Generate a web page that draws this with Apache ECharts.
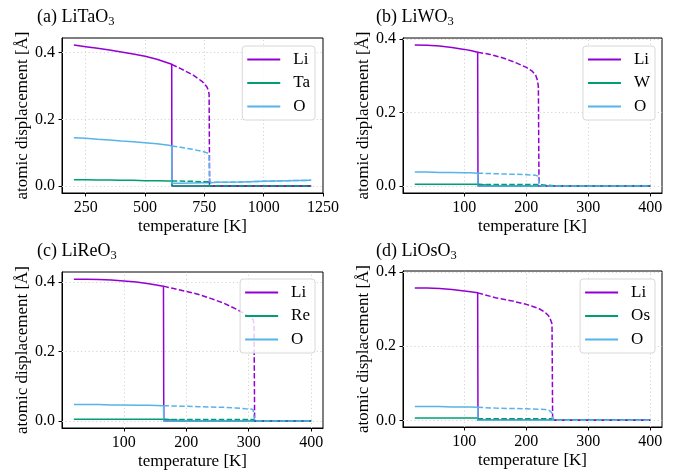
<!DOCTYPE html>
<html><head><meta charset="utf-8">
<script src="https://cdn.jsdelivr.net/npm/echarts@6/dist/echarts.min.js"></script>
<style>html,body{margin:0;padding:0;background:#fff}#c{width:689px;height:472px}</style>
</head><body><div id="c"></div>
<script>
// ---------- data ----------
// (a) LiTaO3
const aSolidT  = [200, 250, 300, 350, 400, 450, 500, 550, 600, 612.5, 613, 650, 700, 750, 775, 800, 900, 1000, 1100, 1200];
const aSolidLi = [0.423, 0.418, 0.413, 0.408, 0.402, 0.396, 0.389, 0.380, 0.368, 0.365, 0, 0, 0, 0, 0, 0, 0, 0, 0, 0];
const aSolidTa = [0.019, 0.019, 0.018, 0.018, 0.017, 0.017, 0.016, 0.016, 0.015, 0.015, 0, 0, 0, 0, 0, 0, 0, 0, 0, 0];
const aSolidO  = [0.145, 0.143, 0.140, 0.138, 0.135, 0.133, 0.130, 0.127, 0.122, 0.120, 0.008, 0.008, 0.009, 0.010, 0.010, 0.011, 0.012, 0.014, 0.016, 0.017];
const aDashT   = [612.5, 650, 700, 740, 760, 767, 770, 772, 775, 800, 900, 1000, 1100, 1200];
const aDashLi  = [0.365, 0.352, 0.334, 0.314, 0.298, 0.287, 0.275, 0, 0, 0, 0, 0, 0, 0];
const aDashTa  = [0.015, 0.015, 0.014, 0.013, 0.013, 0.013, 0.013, 0, 0, 0, 0, 0, 0, 0];
const aDashO   = [0.120, 0.116, 0.110, 0.104, 0.100, 0.098, 0.096, 0.020, 0.010, 0.011, 0.012, 0.014, 0.016, 0.017];
// (b) LiWO3
const bSolidT  = [20, 40, 60, 80, 100, 110, 121.5, 122, 150, 200, 250, 300, 350, 400];
const bSolidLi = [0.384, 0.383, 0.381, 0.377, 0.372, 0.369, 0.364, 0, 0, 0, 0, 0, 0, 0];
const bSolidW  = [0.005, 0.005, 0.005, 0.005, 0.005, 0.005, 0.005, 0, 0, 0, 0, 0, 0, 0];
const bSolidO  = [0.038, 0.038, 0.037, 0.037, 0.036, 0.036, 0.035, 0, 0, 0, 0, 0, 0, 0];
const bDashT   = [121.5, 140, 160, 180, 200, 210, 215, 218, 219.5, 220.5, 222, 250, 300, 350, 400];
const bDashLi  = [0.364, 0.359, 0.350, 0.338, 0.323, 0.312, 0.302, 0.288, 0.270, 0, 0, 0, 0, 0, 0];
const bDashW   = [0.004, 0.004, 0.004, 0.004, 0.004, 0.004, 0.004, 0.004, 0.004, 0, 0, 0, 0, 0, 0];
const bDashO   = [0.035, 0.034, 0.033, 0.032, 0.031, 0.030, 0.029, 0.029, 0.027, 0, 0, 0, 0, 0, 0];
// (c) LiReO3
const cSolidT  = [20, 40, 60, 80, 100, 120, 140, 163.5, 164, 200, 250, 300, 350, 400];
const cSolidLi = [0.408, 0.408, 0.407, 0.406, 0.403, 0.400, 0.395, 0.388, 0, 0, 0, 0, 0, 0];
const cSolidRe = [0.005, 0.005, 0.005, 0.005, 0.005, 0.005, 0.005, 0.005, 0, 0, 0, 0, 0, 0];
const cSolidO  = [0.047, 0.047, 0.047, 0.046, 0.046, 0.045, 0.045, 0.044, 0, 0, 0, 0, 0, 0];
const cDashT   = [163.5, 180, 200, 220, 240, 260, 280, 295, 303, 307, 308.5, 309.5, 312, 350, 400];
const cDashLi  = [0.388, 0.381, 0.373, 0.364, 0.352, 0.339, 0.322, 0.307, 0.298, 0.292, 0.280, 0, 0, 0, 0];
const cDashRe  = [0.004, 0.004, 0.004, 0.004, 0.004, 0.004, 0.004, 0.004, 0.004, 0.004, 0.004, 0, 0, 0, 0];
const cDashO   = [0.044, 0.043, 0.042, 0.041, 0.040, 0.039, 0.037, 0.035, 0.034, 0.033, 0.030, 0, 0, 0, 0];
// (d) LiOsO3
const dSolidT  = [20, 40, 60, 80, 100, 110, 121.5, 122, 150, 200, 250, 300, 350, 400];
const dSolidLi = [0.357, 0.357, 0.356, 0.353, 0.349, 0.347, 0.344, 0, 0, 0, 0, 0, 0, 0];
const dSolidOs = [0.006, 0.006, 0.006, 0.006, 0.006, 0.006, 0.006, 0, 0, 0, 0, 0, 0, 0];
const dSolidO  = [0.037, 0.037, 0.037, 0.036, 0.036, 0.036, 0.035, 0, 0, 0, 0, 0, 0, 0];
const dDashT   = [121.5, 150, 175, 200, 220, 230, 236, 239, 241.5, 242.5, 250, 300, 350, 400];
const dDashLi  = [0.344, 0.331, 0.323, 0.313, 0.302, 0.292, 0.282, 0.272, 0.260, 0, 0, 0, 0, 0];
const dDashOs  = [0.004, 0.004, 0.004, 0.004, 0.004, 0.004, 0.004, 0.004, 0.004, 0, 0, 0, 0, 0];
const dDashO   = [0.035, 0.033, 0.032, 0.031, 0.030, 0.029, 0.028, 0.027, 0.020, 0, 0, 0, 0, 0];
// tick labels
const xTicksA = [250, 500, 750, 1000, 1250];
const xTicksB = [100, 200, 300, 400];
const yTicks  = [0, 0.2, 0.4];
const titles  = ['(a) LiTaO{s|3}', '(b) LiWO{s|3}', '(c) LiReO{s|3}', '(d) LiOsO{s|3}'];
const hostNames = ['Ta', 'W', 'Re', 'Os'];

// ---------- styling ----------
const FONT = 'Liberation Serif';
const COL = {Li: '#9400D3', host: '#009E73', O: '#56B4E9'};

const panels = [
  {grid: {left: 62, top: 38, width: 261, height: 155}, xMin: 150, xMax: 1250, xt: xTicksA, yMin: -0.021, yMax: 0.444,
   title: {left: 37, top: 7}, legend: {right: 374, top: 46},
   s: [aSolidT, aSolidLi, aSolidTa, aSolidO], d: [aDashT, aDashLi, aDashTa, aDashO]},
  {grid: {left: 403, top: 38, width: 259, height: 155}, xMin: 1, xMax: 419, xt: xTicksB, yMin: -0.019, yMax: 0.403,
   title: {left: 376, top: 7}, legend: {right: 34, top: 46},
   s: [bSolidT, bSolidLi, bSolidW, bSolidO], d: [bDashT, bDashLi, bDashW, bDashO]},
  {grid: {left: 62, top: 272, width: 261, height: 156}, xMin: 1, xMax: 419, xt: xTicksB, yMin: -0.0204, yMax: 0.4287,
   title: {left: 37, top: 241}, legend: {right: 374, top: 279},
   s: [cSolidT, cSolidLi, cSolidRe, cSolidO], d: [cDashT, cDashLi, cDashRe, cDashO]},
  {grid: {left: 403, top: 271, width: 259, height: 156}, xMin: 1, xMax: 419, xt: xTicksB, yMin: -0.018, yMax: 0.403,
   title: {left: 376, top: 241}, legend: {right: 34, top: 279},
   s: [dSolidT, dSolidLi, dSolidOs, dSolidO], d: [dDashT, dDashLi, dDashOs, dDashO]}
];

const zip = (T, Y) => T.map((t, i) => [t, Y[i]]);
const option = {animation: false, backgroundColor: '#fff', title: [], grid: [], xAxis: [], yAxis: [], legend: [], series: []};

panels.forEach((p, i) => {
  option.title.push({text: titles[i], left: p.title.left, top: p.title.top, padding: 0,
    textStyle: {fontFamily: FONT, fontSize: 18, fontWeight: 'normal', color: '#000', lineHeight: 21,
      rich: {s: {fontFamily: FONT, fontSize: 12.5, color: '#000', lineHeight: 21, verticalAlign: 'bottom', padding: [6, 0, 0, 0]}}}});
  option.grid.push(Object.assign({show: true, borderColor: '#000', borderWidth: 1, backgroundColor: 'transparent'}, p.grid));
  option.xAxis.push({type: 'value', gridIndex: i, min: p.xMin, max: p.xMax,
    axisLine: {show: true, onZero: false, lineStyle: {color: '#000', width: 1}},
    axisTick: {show: true, inside: false, length: 3.5, lineStyle: {color: '#000'}, customValues: p.xt},
    axisLabel: {customValues: p.xt, margin: 7, fontFamily: FONT, fontSize: 16, color: '#000', formatter: v => String(v)},
    splitLine: {show: false},
    name: 'temperature [K]', nameLocation: 'middle', nameGap: 25,
    nameTextStyle: {fontFamily: FONT, fontSize: 17, color: '#000'}});
  option.yAxis.push({type: 'value', gridIndex: i, min: p.yMin, max: p.yMax,
    axisLine: {show: true, onZero: false, lineStyle: {color: '#000', width: 1}},
    axisTick: {show: true, inside: false, length: 3.5, lineStyle: {color: '#000'}, customValues: yTicks},
    axisLabel: {customValues: yTicks, margin: 7, fontFamily: FONT, fontSize: 16, color: '#000', formatter: v => v.toFixed(1)},
    splitLine: {show: false},
    name: 'atomic displacement [Å]', nameLocation: 'middle', nameGap: 28,
    nameTextStyle: {fontFamily: FONT, fontSize: 17, color: '#000'}});
  // dotted grid lines at the tick values
  option.series.push({type: 'line', name: 'grid' + i, xAxisIndex: i, yAxisIndex: i, data: [], silent: true, z: 1,
    markLine: {silent: true, z: 1, symbol: ['none', 'none'], label: {show: false}, animation: false,
      lineStyle: {color: '#d4d4d4', width: 1, type: [1.2, 2.6]},
      emphasis: {disabled: true},
      data: yTicks.map(v => ({yAxis: v})).concat(p.xt.filter(v => v < p.xMax).map(v => ({xAxis: v})))}});
  const names = ['Li', hostNames[i], 'O'];
  const cols = [COL.Li, COL.host, COL.O];
  option.legend.push({data: names, orient: 'vertical', right: p.legend.right, top: p.legend.top,
    icon: 'rect', itemWidth: 33, itemHeight: 2, itemGap: 6.5, padding: [5, 5, 5, 5],
    backgroundColor: 'rgba(255,255,255,0.8)', borderColor: '#d8d8d8', borderWidth: 1, borderRadius: 3,
    textStyle: {fontFamily: FONT, fontSize: 17, lineHeight: 17, color: '#000', padding: [0, 0, 0, 8]}});
  for (let k = 0; k < 3; k++) {
    option.series.push({type: 'line', name: names[k], xAxisIndex: i, yAxisIndex: i, data: zip(p.s[0], p.s[k + 1]),
      symbol: 'none', showSymbol: false, color: cols[k], lineStyle: {color: cols[k], width: 1.5}, z: 2});
  }
  for (let k = 0; k < 3; k++) {
    option.series.push({type: 'line', name: names[k] + ' (dashed)', xAxisIndex: i, yAxisIndex: i, data: zip(p.d[0], p.d[k + 1]),
      symbol: 'none', showSymbol: false, color: cols[k], lineStyle: {color: cols[k], width: 1.5, type: [5.5, 2.4]}, z: 3});
  }
});

const chart = echarts.init(document.getElementById('c'), null, {renderer: 'canvas'});
chart.setOption(option);
</script></body></html>
